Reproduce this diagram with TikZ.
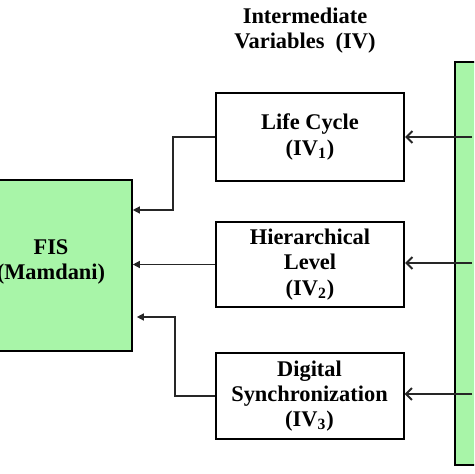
\documentclass[tikz,border=0pt]{standalone}
\usepackage{fontspec}
\setmainfont{Liberation Serif}
\usetikzlibrary{arrows.meta}
\definecolor{boxgreen}{HTML}{A8F5A8}
\begin{document}
\begin{tikzpicture}[x=0.5pt,y=-0.5pt,
  every node/.style={font=\fontsize{11.2pt}{12.6pt}\selectfont\bfseries, align=center, inner sep=0pt},
  ivbox/.style={draw=black, line width=1pt, fill=white, minimum width=94pt},
  greenbox/.style={draw=black, line width=0.8pt, fill=boxgreen},
  conn/.style={draw=black!85, line width=0.65pt},
  inarrow/.style={conn, -{Straight Barb[length=3pt,width=6pt,line width=1pt]}},
  outarrow/.style={conn, -{Triangle[length=3.5pt,width=3.5pt]}}
]
\useasboundingbox (0,0) rectangle (474,474);
\begin{scope}
\clip (0,0) rectangle (474,474);
\node[greenbox, minimum width=82pt, minimum height=85.5pt] (fis) at (50,265.5) {};
\node[greenbox, minimum width=42.5pt, minimum height=201.5pt] (right) at (497.5,263.5) {};
\end{scope}
\node (fistext) at (51,262) {FIS\\(Mamdani)};

\node (title) at (305,31) {Intermediate\\Variables\ \ (IV)};

\node[ivbox, minimum height=44pt] (life) at (310,137) {Life Cycle\\(IV\textsubscript{1})};
\node[ivbox, minimum height=42.5pt] (hier) at (310,264.5) {Hierarchical\\Level\\(IV\textsubscript{2})};
\node[ivbox, minimum height=43pt] (dig) at (309.5,396) {Digital\\Synchronization\\(IV\textsubscript{3})};

\coordinate (r1) at (472,137);
\coordinate (r2) at (472,263);
\coordinate (r3) at (472,394);
\draw[inarrow] (r1) -- (life.east |- r1);
\draw[inarrow] (r2) -- (hier.east |- r2);
\draw[inarrow] (r3) -- (dig.east |- r3);

\draw[outarrow] (life.west) -- (173,137) |- (fis.east |- 0,210);
\draw[outarrow] (hier.west) -- (fis.east |- hier.west);
\draw[outarrow, shorten >=2pt] (dig.west) -- (175,396) |- (fis.east |- 0,317);
\end{tikzpicture}
\end{document}
